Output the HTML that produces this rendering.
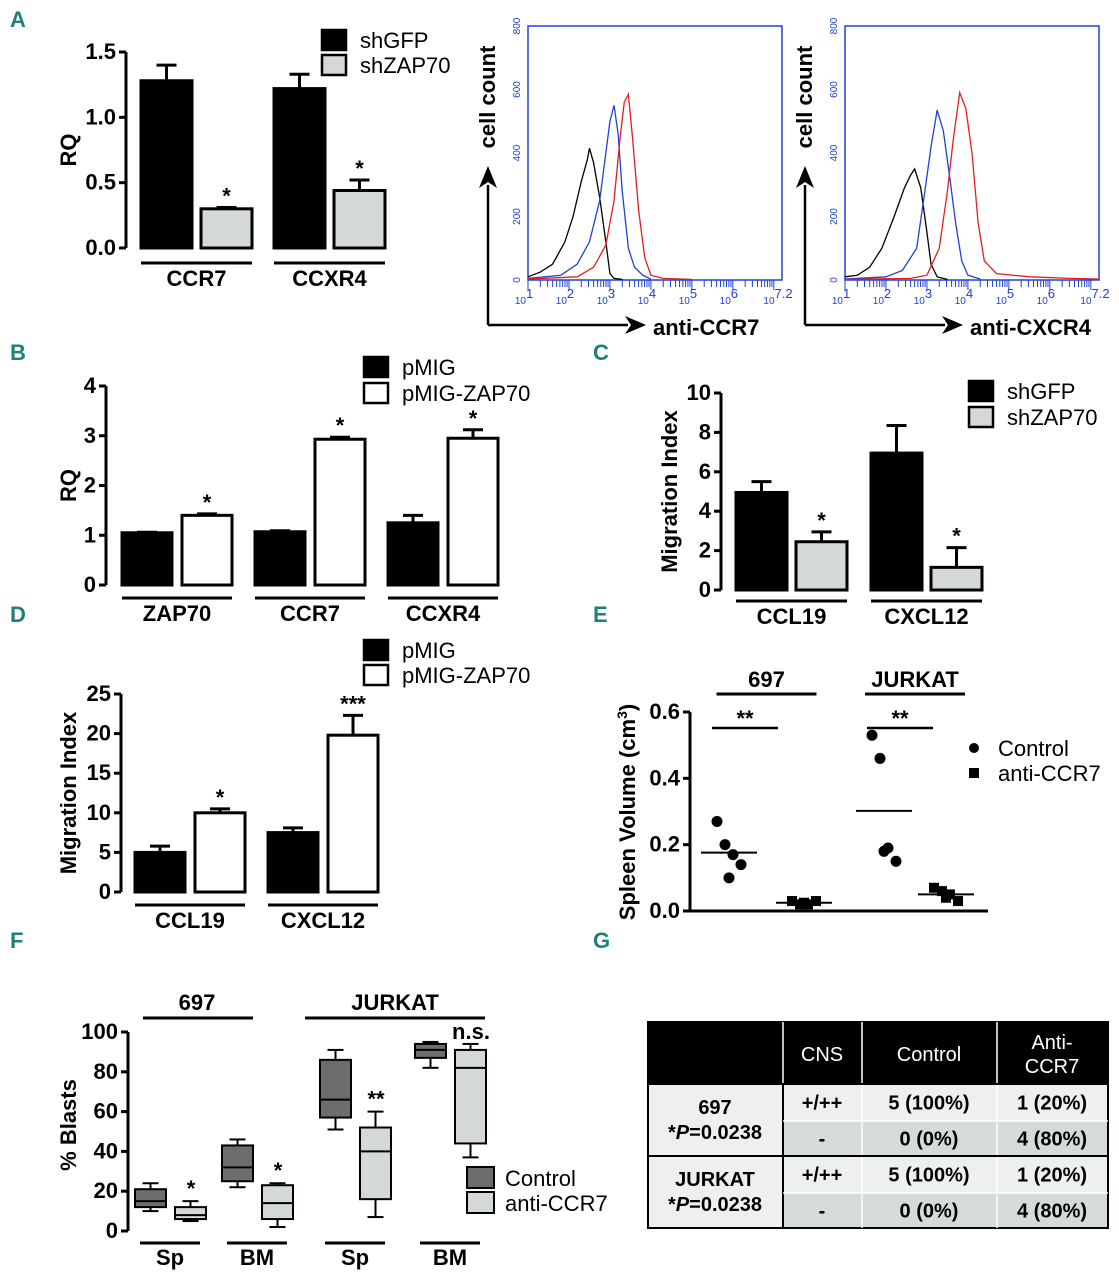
<!DOCTYPE html>
<html><head><meta charset="utf-8"><style>
body{margin:0;background:#fff}
svg{display:block;font-family:"Liberation Sans Narrow","Liberation Sans",sans-serif}
.t{font-weight:bold;font-size:22px}
.lg{font-size:22px}
.pl{font-family:"Liberation Sans Narrow","Liberation Sans",sans-serif;font-weight:bold;font-size:22px;fill:#1f8078}
</style></head><body>
<svg id="fig" width="1119" height="1280" viewBox="0 0 1119 1280" xmlns="http://www.w3.org/2000/svg">
<text class="pl" x="10" y="27">A</text>
<text class="pl" x="10" y="360">B</text>
<text class="pl" x="593" y="360">C</text>
<text class="pl" x="10" y="622">D</text>
<text class="pl" x="593" y="622">E</text>
<text class="pl" x="10" y="948">F</text>
<text class="pl" x="593" y="948">G</text>
<g id="table"></g>
</svg>
<script>
// ---------- data ----------
const aCats=["CCR7","CCXR4"];
const aSeries=["shGFP","shZAP70"];
const aVals=[[1.28,1.22],[0.30,0.44]];
const aErr=[[1.40,1.33],[0.31,0.52]];
const aTicks=["0.0","0.5","1.0","1.5"];
const aStars=[["",""],["*","*"]];

const bCats=["ZAP70","CCR7","CCXR4"];
const bSeries=["pMIG","pMIG-ZAP70"];
const bVals=[[1.05,1.07,1.25],[1.40,2.93,2.95]];
const bErr=[[1.06,1.09,1.40],[1.43,2.97,3.12]];
const bTicks=["0","1","2","3","4"];
const bStars=[["","",""],["*","*","*"]];

const cCats=["CCL19","CXCL12"];
const cSeries=["shGFP","shZAP70"];
const cVals=[[4.95,6.95],[2.45,1.15]];
const cErr=[[5.5,8.35],[2.95,2.15]];
const cTicks=["0","2","4","6","8","10"];
const cStars=[["",""],["*","*"]];

const dCats=["CCL19","CXCL12"];
const dSeries=["pMIG","pMIG-ZAP70"];
const dVals=[[5.0,7.5],[10.0,19.8]];
const dErr=[[5.8,8.1],[10.5,22.3]];
const dTicks=["0","5","10","15","20","25"];
const dStars=[["",""],["*","***"]];

const eGroups=["697","JURKAT"];
const eCtl697=[0.27,0.20,0.17,0.14,0.10];
const eAnti697=[0.03,0.02,0.02,0.03,0.025];
const eCtlJur=[0.53,0.46,0.19,0.15,0.18];
const eAntiJur=[0.07,0.06,0.05,0.03,0.04];
const eTicks=["0.0","0.2","0.4","0.6"];

const fCats=["Sp","BM","Sp","BM"];
// [min,q1,median,q3,max]
const fCtl=[[10,12,15,21,24],[22,25,32,43,46],[51,57,66,86,91],[82,87,91,94,95]];
const fAnti=[[5,6,8,12,15],[2,6,14,23,24],[7,16,40,52,60],[37,44,82,91,94]];
const fStars=["*","*","**","n.s."];
const fTicks=["0","20","40","60","80","100"];

const flowTicksY=["0","200","400","600","800"];
const flowDec=["1","2","3","4","5","6","7.2"];
// histogram [log10 intensity, count]
const ccr7Black=[[1,10],[1.3,25],[1.6,50],[1.9,120],[2.1,200],[2.3,310],[2.45,380],[2.5,415],[2.6,370],[2.75,260],[2.9,120],[3.0,20],[3.1,5],[3.3,2]];
const ccr7Blue=[[1,5],[1.8,15],[2.2,50],[2.5,120],[2.75,250],[2.9,400],[3.0,500],[3.1,550],[3.2,460],[3.3,280],[3.45,100],[3.6,40],[3.8,15],[4.0,3]];
const ccr7Red=[[1,3],[2.2,10],[2.6,40],[2.9,110],[3.1,250],[3.25,450],[3.35,560],[3.45,585],[3.55,450],[3.7,220],[3.85,70],[4.0,15],[4.3,5],[5,2]];
const cxcr4Black=[[1,10],[1.3,15],[1.6,40],[1.9,100],[2.2,200],[2.45,290],[2.6,330],[2.7,350],[2.85,290],[3.0,150],[3.1,50],[3.25,10],[3.5,2]];
const cxcr4Blue=[[1,3],[2,10],[2.4,30],[2.75,100],[2.95,280],[3.1,420],[3.25,535],[3.4,470],[3.55,330],[3.7,180],[3.85,60],[4.0,15],[4.3,3]];
const cxcr4Red=[[1,2],[2.6,5],[3.0,15],[3.3,100],[3.5,280],[3.65,450],[3.8,590],[3.95,540],[4.1,400],[4.25,180],[4.4,60],[4.7,20],[5.5,10],[6.5,5],[7.2,3]];

// ---------- helpers ----------
const NS="http://www.w3.org/2000/svg";
const svg=document.getElementById('fig');
function mk(tag,at,parent,txt){const e=document.createElementNS(NS,tag);for(const k in at)e.setAttribute(k,at[k]);if(txt!==undefined)e.textContent=txt;(parent||svg).appendChild(e);return e;}
function line(x1,y1,x2,y2,w,c,p){return mk('line',{x1,y1,x2,y2,stroke:c||'#000','stroke-width':w||3},p);}

function barChart(cfg){
  const g=mk('g',{});
  
  
  const ys=v=>cfg.y0-(v/cfg.max)*(cfg.y0-cfg.y1);
  line(cfg.ax,cfg.y1,cfg.ax,cfg.y0,3,'#000',g);
  cfg.ticks.forEach((t,i)=>{const v=cfg.max*i/(cfg.ticks.length-1);const y=ys(v);
    line(cfg.ax-7,y,cfg.ax,y,3,'#000',g);
    const tx=mk('text',{x:cfg.ax-10,y:y+7,'text-anchor':'end',class:'t'},g,t);
    
    });
  const yl=mk('text',{x:0,y:0,class:'t',transform:`translate(${cfg.ylx},${(cfg.y0+cfg.y1)/2}) rotate(-90)`,'text-anchor':'middle'},g,cfg.ylabel);
  
  
  cfg.cats.forEach((c,ci)=>{
    const gx=cfg.x0+ci*cfg.gstep;
    cfg.vals.forEach((sv,si)=>{
      const x=gx+si*cfg.bstep;const v=sv[ci];const yt=ys(v);
      const ye=ys(cfg.err[si][ci]);
      line(x+cfg.bw/2,ye,x+cfg.bw/2,yt,3,'#000',g);
      line(x+cfg.bw/2-10,ye,x+cfg.bw/2+10,ye,3,'#000',g);
      const r=mk('rect',{x:x,y:yt,width:cfg.bw,height:cfg.y0-yt,fill:cfg.fills[si],stroke:'#000','stroke-width':3},g);
      
      
      const s=cfg.stars[si][ci];
      if(s){const st=mk('text',{x:x+cfg.bw/2,y:ye-4,'text-anchor':'middle',class:'t'},g,s);
        
        }
    });
    const w=cfg.bstep+cfg.bw;
    line(gx,cfg.ul,gx+w,cfg.ul,3,'#000',g);
    const ct=mk('text',{x:gx+w/2,y:cfg.ul+23,'text-anchor':'middle',class:'t'},g,c);
    
    
  });
  cfg.series.forEach((s,si)=>{
    const r=mk('rect',{x:cfg.lx,y:cfg.ly+si*cfg.lstep,width:24,height:20,fill:cfg.fills[si],stroke:'#000','stroke-width':2.5},g);
    
    
    const t=mk('text',{x:cfg.lx+38,y:cfg.ly+si*cfg.lstep+18,class:'lg'},g,s);
    
    
  });
}
barChart({name:'chart-a',cats:aCats,series:aSeries,vals:aVals,err:aErr,stars:aStars,ticks:aTicks,max:1.5,y0:248,y1:52,ax:126,x0:141,gstep:133,bstep:60,bw:51,ul:263,fills:['#000','#d5d9d6'],ylabel:'RQ',ylx:76,lx:322,ly:30,lstep:25});
barChart({name:'chart-b',cats:bCats,series:bSeries,vals:bVals,err:bErr,stars:bStars,ticks:bTicks,max:4,y0:585,y1:386,ax:106,x0:122,gstep:133,bstep:60,bw:50,ul:598,fills:['#000','#fff'],ylabel:'RQ',ylx:76,lx:364,ly:357,lstep:26});
barChart({name:'chart-c',cats:cCats,series:cSeries,vals:cVals,err:cErr,stars:cStars,ticks:cTicks,max:10,y0:590,y1:393,ax:721,x0:736,gstep:135,bstep:60,bw:51,ul:601,fills:['#000','#d5d9d6'],ylabel:'Migration Index',ylx:677,lx:969,ly:381,lstep:26});
barChart({name:'chart-d',cats:dCats,series:dSeries,vals:dVals,err:dErr,stars:dStars,ticks:dTicks,max:25,y0:892,y1:694,ax:121,x0:135,gstep:133,bstep:60,bw:50,ul:905,fills:['#000','#fff'],ylabel:'Migration Index',ylx:76,lx:364,ly:640,lstep:25});

// ---------- flow ----------
function flow(name,bx,lab,series){
  const g=mk('g',{});
  
  
  const x0=bx,x1=bx+254,y0=280,y1=26;
  const xs=v=>x0+(v-1)/6.2*(x1-x0);const ys=c=>y0-c/800*(y0-y1);
  mk('rect',{x:x0,y:y1,width:x1-x0,height:y0-y1,fill:'none',stroke:'#2040d8','stroke-width':1.5},g);
  flowTicksY.forEach((t,i)=>{const y=ys(i*200);
    const tx=mk('text',{x:0,y:0,'font-size':10,fill:'#2040d8','text-anchor':'middle',transform:`translate(${x0-8},${y}) rotate(-90)`,'font-family':'Liberation Sans'},g,t);
    
    });
  for(let d=1;d<=7;d++){for(let k=1;k<10;k++){const v=d+Math.log10(k);if(v>7.2)break;const x=xs(v);line(x,y0,x,y0+(k==1?10:7),1,'#2040d8',g);}}
  flowDec.forEach((t,i)=>{const v=i<6?i+1:7.2;const x=xs(v);
    const tx=mk('text',{x:x-4,y:y0+24,'font-size':10,fill:'#2040d8','text-anchor':'middle','font-family':'Liberation Sans'},g,'10');
    mk('tspan',{dy:-6,'font-size':13},tx,t);
    
    });
  const cols=['#000','#2040d8','#e02020'];
  series.forEach((s,si)=>{const p=mk('polyline',{points:s.map(q=>xs(q[0])+','+ys(q[1])).join(' '),fill:'none',stroke:cols[si],'stroke-width':1.3},g);
    
    });
  const ax=x0-40;
  line(ax,325,ax,185,2.5,'#000',g);mk('polygon',{points:`${ax-9},188 ${ax},166 ${ax+9},188 ${ax},182`,fill:'#000'},g);
  line(ax,325,x0+100,325,2.5,'#000',g);mk('polygon',{points:`${x0+97},316 ${x0+118},325 ${x0+97},334 ${x0+103},325`,fill:'#000'},g);
  const yt=mk('text',{x:0,y:0,class:'t','text-anchor':'middle',transform:`translate(${ax+7},97) rotate(-90)`},g,'cell count');
  
  
  const xt=mk('text',{x:x0+125,y:335,class:'t'},g,lab);
  
  
}
flow('flow-ccr7',528,'anti-CCR7',[ccr7Black,ccr7Blue,ccr7Red]);
flow('flow-cxcr4',845,'anti-CXCR4',[cxcr4Black,cxcr4Blue,cxcr4Red]);

// ---------- E ----------
(function(){
  const g=mk('g',{});
  
  
  const y0=911,y1=712,ax=690;const ys=v=>y0-v/0.6*(y0-y1);
  line(ax,y1,ax,y0,3,'#000',g);line(ax,y0,988,y0,3,'#000',g);
  eTicks.forEach((t,i)=>{const y=ys(i*0.2);line(ax-7,y,ax,y,3,'#000',g);
    const tx=mk('text',{x:ax-10,y:y+7,'text-anchor':'end',class:'t'},g,t);
    
    });
  const yl=mk('text',{x:0,y:0,class:'t','text-anchor':'middle',transform:`translate(635,812) rotate(-90)`},g,'Spleen Volume (cm');
  mk('tspan',{dy:-8,'font-size':14},yl,'3');mk('tspan',{dy:8},yl,')');
  
  
  const groups=[{c:eCtl697,a:eAnti697,cx:729,axx:804},{c:eCtlJur,a:eAntiJur,cx:884,axx:946}];
  const offs=[-12,-4,4,12,0];
  groups.forEach((gr,gi)=>{
    const dots=(arr,cx,sq)=>{arr.forEach((v,i)=>{const x=cx+offs[i];const y=ys(v);
      const e=sq?mk('rect',{x:x-5,y:y-5,width:10,height:10,fill:'#000'},g):mk('circle',{cx:x,cy:y,r:5.5,fill:'#000'},g);
      
      });
      const m=arr.reduce((s,v)=>s+v,0)/arr.length;line(cx-28,ys(m),cx+28,ys(m),2,'#000',g);};
    dots(gr.c,gr.cx,false);dots(gr.a,gr.axx,true);
    const hx=(gr.cx+gr.axx)/2;
    line(hx-50,694,hx+50,694,3,'#000',g);
    const h=mk('text',{x:hx,y:687,'text-anchor':'middle',class:'t'},g,eGroups[gi]);
    
    
    line(gr.cx-17,728,gr.cx+49,728,2.5,'#000',g);
    const s=mk('text',{x:gr.cx+16,y:726,'text-anchor':'middle',class:'t'},g,'**');
    
    
  });
  mk('circle',{cx:974,cy:748,r:5,fill:'#000'},g);mk('rect',{x:969,y:768,width:10,height:10,fill:'#000'},g);
  let t=mk('text',{x:998,y:756,class:'lg'},g,'Control');
  t=mk('text',{x:998,y:781,class:'lg'},g,'anti-CCR7');
})();

// ---------- F ----------
(function(){
  const g=mk('g',{});
  
  
  const y0=1231,y1=1032,ax=128;const ys=v=>y0-v/100*(y0-y1);
  line(ax,y1,ax,y0,3,'#000',g);
  fTicks.forEach((t,i)=>{const y=ys(i*20);line(ax-7,y,ax,y,3,'#000',g);
    const tx=mk('text',{x:ax-10,y:y+7,'text-anchor':'end',class:'t'},g,t);
    
    });
  const yl=mk('text',{x:0,y:0,class:'t','text-anchor':'middle',transform:`translate(76,1125) rotate(-90)`},g,'% Blasts');
  
  const gx=[135,222,320,415];
  const box=(d,x,w,fill,nm)=>{const xc=x+w/2;
    line(xc,ys(d[4]),xc,ys(d[0]),2,'#000',g);
    line(xc-8,ys(d[4]),xc+8,ys(d[4]),2,'#000',g);line(xc-8,ys(d[0]),xc+8,ys(d[0]),2,'#000',g);
    const r=mk('rect',{x:x,y:ys(d[3]),width:w,height:ys(d[1])-ys(d[3]),fill:fill,stroke:'#000','stroke-width':2},g);
    
    line(x,ys(d[2]),x+w,ys(d[2]),2,'#000',g);};
  fCats.forEach((c,i)=>{
    box(fCtl[i],gx[i],31,'#6b6e6d','box-control');
    box(fAnti[i],gx[i]+40,31,'#d5d9d6','box-anti-ccr7');
    const s=mk('text',{x:gx[i]+56,y:ys(fAnti[i][4])-5,'text-anchor':'middle',class:'t'},g,fStars[i]);
    
    line(gx[i]+5,1243,gx[i]+65,1243,3,'#000',g);
    const t=mk('text',{x:gx[i]+35,y:1265,'text-anchor':'middle',class:'t'},g,c);
    
  });
  line(143,1018,253,1018,3,'#000',g);line(305,1018,485,1018,3,'#000',g);
  let t=mk('text',{x:197,y:1010,'text-anchor':'middle',class:'t'},g,'697');
  t=mk('text',{x:395,y:1010,'text-anchor':'middle',class:'t'},g,'JURKAT');
  mk('rect',{x:467,y:1167,width:27,height:21,fill:'#6b6e6d',stroke:'#000','stroke-width':2},g);
  mk('rect',{x:467,y:1192,width:27,height:21,fill:'#d5d9d6',stroke:'#000','stroke-width':2},g);
  t=mk('text',{x:505,y:1186,class:'lg'},g,'Control');
  t=mk('text',{x:505,y:1211,class:'lg'},g,'anti-CCR7');
})();

// ---------- table ----------
(function(){
  const g=document.getElementById('table');
  const ry=[1022,1084,1121,1156,1193,1228];
  mk('rect',{x:648,y:1022,width:460,height:62,fill:'#000'},g);
  const light='#eef0ef',dark='#d5dbd8';
  mk('rect',{x:648,y:1084,width:135,height:72,fill:light},g);
  mk('rect',{x:648,y:1156,width:135,height:72,fill:light},g);
  [[1084,light],[1121,dark],[1156,light],[1193,dark]].forEach((r,i)=>mk('rect',{x:783,y:r[0],width:325,height:(ry[i+2]-ry[i+1]),fill:r[1]},g));
  mk('rect',{x:648,y:1022,width:460,height:206,fill:'none',stroke:'#000','stroke-width':2},g);
  [783,862,997].forEach(x=>line(x,1022,x,1228,1.5,'#fff',g));
  line(783,1084,783,1228,2,'#000',g);
  line(648,1156,1108,1156,2,'#000',g);line(648,1084,1108,1084,2,'#000',g);
  line(783,1121,1108,1121,1.5,'#fff',g);line(783,1193,1108,1193,1.5,'#fff',g);
  const tt=(x,y,s,col,bold)=>{const e=mk('text',{x,y,'text-anchor':'middle','font-size':20,fill:col||'#000','font-weight':bold?'bold':'normal','font-family':'Liberation Sans'},g,s);return e;};
  tt(822,1061,'CNS','#fff');tt(929,1061,'Control','#fff');tt(1052,1049,'Anti-','#fff');tt(1052,1073,'CCR7','#fff');
  const rows=[['+/++','5 (100%)','1 (20%)'],['-','0 (0%)','4 (80%)'],['+/++','5 (100%)','1 (20%)'],['-','0 (0%)','4 (80%)']];
  rows.forEach((r,i)=>{const y=(ry[i+1]+ry[i+2])/2+7;tt(822,y,r[0],'#000',true);tt(929,y,r[1],'#000',true);tt(1052,y,r[2],'#000',true);});
  [['697',1114],['JURKAT',1186]].forEach(a=>{tt(715,a[1],a[0],'#000',true);
    const p=tt(715,a[1]+25,'*','#000',true);mk('tspan',{'font-style':'italic'},p,'P');mk('tspan',{},p,'=0.0238');});
})();
</script>
</body></html>
